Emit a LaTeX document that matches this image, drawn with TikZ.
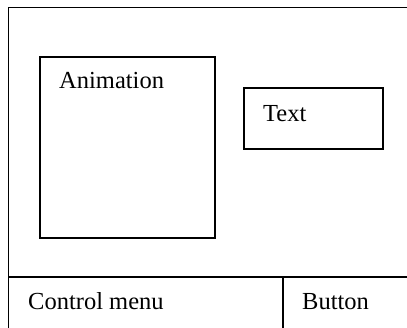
\documentclass[tikz,border=0pt]{standalone}
\usepackage{fontspec}
\setmainfont{Liberation Serif}
\begin{document}
\begin{tikzpicture}[x=1pt,y=-1pt,
  frame/.style={draw=black,line width=1.9pt},
  panel/.style={draw=black,line width=1.8pt,rectangle,inner sep=0pt,anchor=north west},
  caption/.style={anchor=base west,inner sep=0pt,font=\fontsize{24.5}{28}\selectfont}]
  \useasboundingbox (0,0) rectangle (407,328);
  \clip (0,0) rectangle (407,328);
  % screen outline and bottom bar
  \draw[frame] (8.5,7.5) rectangle (412,334);
  \coordinate (barL) at (8.5,277);
  \coordinate (barR) at (412,277);
  \coordinate (sepT) at (283,277);
  \coordinate (sepB) at (283,334);
  \draw[frame] (barL) -- (barR);
  \draw[frame] (sepT) -- (sepB);
  % content panels
  \node[panel,minimum width=175pt,minimum height=181pt] (anim) at (39,56) {};
  \node[panel,minimum width=139pt,minimum height=61pt] (txt) at (243,87) {};
  % labels
  \node[caption] (animlbl) at (59,89) {Animation};
  \node[caption] (txtlbl) at (263,122) {Text};
  \node[caption] (ctrl) at (28,310) {Control menu};
  \node[caption] (btn) at (302,310) {Button};
\end{tikzpicture}
\end{document}
